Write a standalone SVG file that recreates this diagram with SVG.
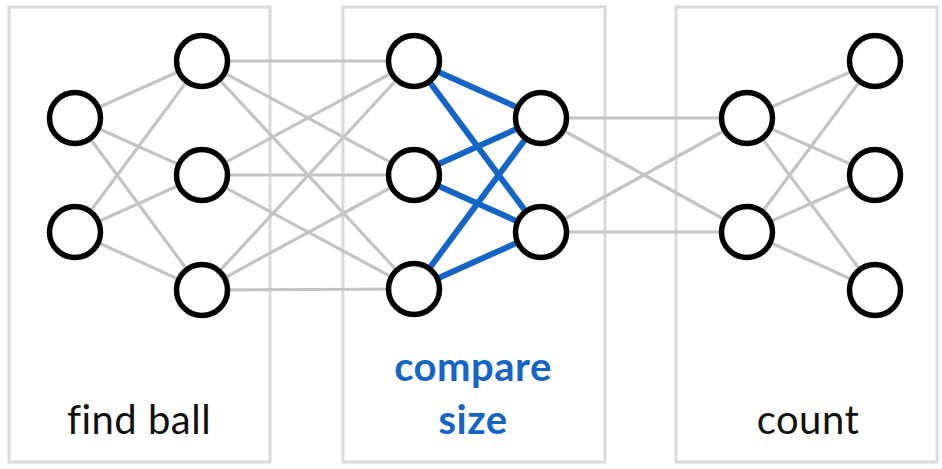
<svg xmlns="http://www.w3.org/2000/svg" width="942" height="469" viewBox="0 0 942 469">
<style>
.box{fill:none;stroke:#dadada;stroke-width:3}
.n{fill:#fff;stroke:#000;stroke-width:5.5}
.g line{stroke:#c4c4c4;stroke-width:3.2}
.b line{stroke:#1565c8;stroke-width:6}
.t{font-family:Lato,"Noto Sans",sans-serif;font-size:40px;text-anchor:middle;fill:#111;font-variant-ligatures:none;letter-spacing:0.5px}
.tb{font-family:Lato,"Noto Sans",sans-serif;font-size:40px;font-weight:bold;text-anchor:middle;fill:#1565c8;letter-spacing:0.5px}
</style>
<rect id="box1" class="box" x="9" y="7" width="261" height="455"/>
<rect id="box2" class="box" x="343" y="7" width="262" height="455"/>
<rect id="box3" class="box" x="676" y="7" width="261" height="455"/>
<g id="connectors">
<g class="g">
<line x1="75" y1="118" x2="202" y2="61"/><line x1="75" y1="118" x2="202" y2="175"/><line x1="75" y1="118" x2="202" y2="290"/>
<line x1="75" y1="232" x2="202" y2="61"/><line x1="75" y1="232" x2="202" y2="175"/><line x1="75" y1="232" x2="202" y2="290"/>
<line x1="202" y1="61" x2="414" y2="61"/><line x1="202" y1="61" x2="414" y2="175"/><line x1="202" y1="61" x2="414" y2="289"/>
<line x1="202" y1="175" x2="414" y2="61"/><line x1="202" y1="175" x2="414" y2="175"/><line x1="202" y1="175" x2="414" y2="289"/>
<line x1="202" y1="290" x2="414" y2="61"/><line x1="202" y1="290" x2="414" y2="175"/><line x1="202" y1="290" x2="414" y2="289"/>
<line x1="541" y1="118" x2="747" y2="118"/><line x1="541" y1="118" x2="747" y2="232"/>
<line x1="541" y1="232" x2="747" y2="118"/><line x1="541" y1="232" x2="747" y2="232"/>
<line x1="747" y1="118" x2="875" y2="61"/><line x1="747" y1="118" x2="875" y2="175"/><line x1="747" y1="118" x2="875" y2="290"/>
<line x1="747" y1="232" x2="875" y2="61"/><line x1="747" y1="232" x2="875" y2="175"/><line x1="747" y1="232" x2="875" y2="290"/>
</g>
<g class="b">
<line x1="414" y1="61" x2="541" y2="118"/><line x1="414" y1="61" x2="541" y2="232"/>
<line x1="414" y1="175" x2="541" y2="118"/><line x1="414" y1="175" x2="541" y2="232"/>
<line x1="414" y1="289" x2="541" y2="118"/><line x1="414" y1="289" x2="541" y2="232"/>
</g>
</g>
<g id="n1a"><circle class="n" cx="75" cy="118" r="25.5"/></g>
<g id="n1b"><circle class="n" cx="75" cy="232" r="25.5"/></g>
<g id="n2a"><circle class="n" cx="202" cy="61" r="25.5"/></g>
<g id="n2b"><circle class="n" cx="202" cy="175" r="25.5"/></g>
<g id="n2c"><circle class="n" cx="202" cy="290" r="25.5"/></g>
<g id="n3a"><circle class="n" cx="414" cy="61" r="25.5"/></g>
<g id="n3b"><circle class="n" cx="414" cy="175" r="25.5"/></g>
<g id="n3c"><circle class="n" cx="414" cy="289" r="25.5"/></g>
<g id="n4a"><circle class="n" cx="541" cy="118" r="25.5"/></g>
<g id="n4b"><circle class="n" cx="541" cy="232" r="25.5"/></g>
<g id="n5a"><circle class="n" cx="747" cy="118" r="25.5"/></g>
<g id="n5b"><circle class="n" cx="747" cy="232" r="25.5"/></g>
<g id="n6a"><circle class="n" cx="875" cy="61" r="25.5"/></g>
<g id="n6b"><circle class="n" cx="875" cy="175" r="25.5"/></g>
<g id="n6c"><circle class="n" cx="875" cy="290" r="25.5"/></g>
<g id="labels">
<text class="t" x="139" y="434">find ball</text>
<text class="tb" x="473" y="381">compare</text>
<text class="tb" x="473" y="434">size</text>
<text class="t" x="808" y="434">count</text>
</g>
</svg>
